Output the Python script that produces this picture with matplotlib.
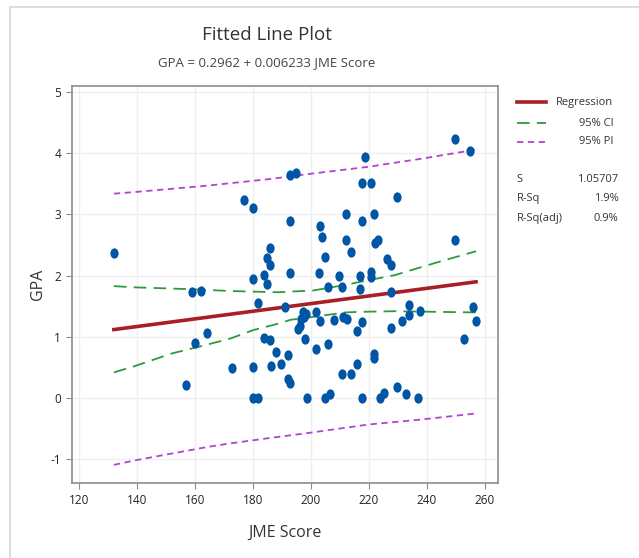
import numpy as np
import matplotlib.pyplot as plt
from matplotlib.path import Path
from matplotlib.transforms import Affine2D
from matplotlib.patches import Rectangle

plt.rcParams['font.family'] = ['Open Sans', 'DejaVu Sans']
plt.rcParams['axes.unicode_minus'] = False

# JME score vs GPA
jme = [132, 156.9, 158.8, 161.9, 159.9, 164.2, 172.6, 176.9, 180.0, 180.0,
       180.0, 180.0, 181.8, 181.8, 183.7, 183.7, 184.9, 184.9, 186.0, 186.0,
       186.0, 186.2, 187.9, 189.8, 191.0, 192.1, 192.1, 192.9, 192.7, 195.0,
       192.8, 192.8, 195.6, 196.2, 196.7, 197.4, 197.6, 198.4, 198.1, 198.8,
       201.9, 201.9, 202.8, 203.1, 203.1, 203.9, 204.8, 204.8, 205.9, 205.9,
       206.7, 207.9, 209.7, 210.9, 210.9, 211.1, 212.3, 212.0, 212.0, 213.8,
       214.0, 215.9, 215.9, 216.9, 216.9, 217.8, 217.8, 217.7, 217.7, 218.8,
       220.7, 220.9, 220.9, 221.8, 221.8, 221.8, 222.0, 223.2, 223.8, 225.1,
       226.1, 227.8, 227.8, 227.8, 229.7, 229.7, 231.6, 232.7, 233.9, 233.9,
       237.0, 237.6, 249.7, 249.7, 252.8, 254.8, 255.8, 256.9]
gpa = [2.37, 0.21, 1.73, 1.75, 0.90, 1.07, 0.50, 3.23, 3.10, 1.94,
       0.51, 0.0, 0.0, 1.56, 2.01, 0.99, 1.87, 2.29, 2.17, 2.45,
       0.95, 0.52, 0.76, 0.56, 1.49, 0.71, 0.32, 0.25, 3.65, 3.67,
       2.89, 2.05, 1.13, 1.18, 1.30, 1.40, 1.33, 1.38, 0.96, 0.0,
       1.41, 0.81, 2.05, 2.81, 1.26, 2.63, 2.31, 0.0, 1.82, 0.88,
       0.07, 1.28, 1.99, 1.81, 0.40, 1.33, 1.30, 3.01, 2.59, 2.39,
       0.40, 1.10, 0.56, 1.99, 1.78, 1.25, 0.0, 3.51, 2.90, 3.94,
       3.51, 2.06, 1.98, 3.01, 0.72, 0.66, 2.53, 2.59, 0.0, 0.08,
       2.28, 2.17, 1.73, 1.14, 3.29, 0.18, 1.26, 0.07, 1.52, 1.36,
       0.01, 1.42, 4.24, 2.58, 0.96, 4.04, 1.49, 1.26]

# fitted line end points
reg_x = [132, 257]
reg_y = [1.12, 1.90]

# confidence band
ci_x = [132, 139, 152, 158, 163, 172, 180, 189, 193, 201, 212, 217, 229, 243, 257]
ci_hi = [1.83, 1.81, 1.79, 1.78, 1.77, 1.75, 1.74, 1.73, 1.74, 1.76, 1.85, 1.90, 2.01, 2.21, 2.40]
ci_lo = [0.42, 0.52, 0.73, 0.80, 0.86, 0.97, 1.11, 1.22, 1.28, 1.33, 1.40, 1.41, 1.42, 1.41, 1.40]

# prediction band
pi_x = [132, 140, 164, 172, 186, 199, 220, 238, 257]
pi_hi = [3.34, 3.37, 3.47, 3.51, 3.58, 3.66, 3.78, 3.91, 4.06]
pi_lo = [-1.09, -1.01, -0.80, -0.74, -0.65, -0.57, -0.43, -0.35, -0.25]

stat_names = ['S', 'R-Sq', 'R-Sq(adj)']
stat_vals = ['1.05707', '1.9%', '0.9%']

fig = plt.figure(figsize=(6.39, 5.58), dpi=100)
ax = fig.add_axes([0.112, 0.134, 0.667, 0.712])

# squashed dot marker like the picture
oval = Path.unit_circle().transformed(Affine2D().scale(0.8, 1.0))

ax.grid(True, color='#efefef', lw=1)
ax.set_axisbelow(True)
ax.plot(pi_x, pi_hi, color='#b044d0', lw=1.3, ls=(0, (3.5, 2.5)))
ax.plot(pi_x, pi_lo, color='#b044d0', lw=1.3, ls=(0, (3.5, 2.5)))
ax.plot(ci_x, ci_hi, color='#2e9a3c', lw=1.3, ls=(0, (7, 4)))
ax.plot(ci_x, ci_lo, color='#2e9a3c', lw=1.3, ls=(0, (7, 4)))
ax.plot(reg_x, reg_y, color='#a81f24', lw=2.6)
ax.scatter(jme, gpa, marker=oval, s=55, color='#0055a5', zorder=3, linewidths=0)

ax.set_xlim(117.4, 264.5)
ax.set_ylim(-1.39, 5.1)
ax.set_xticks(range(120, 261, 20))
ax.set_yticks(range(-1, 6))
for s in ax.spines.values():
    s.set_color('#8c8c8c')
    s.set_linewidth(1.2)
ax.tick_params(colors='#8c8c8c', labelcolor='#222222', labelsize=8.5, length=4)
ax.set_xlabel('JME Score', fontsize=11.5, color='#333333', labelpad=13)
ax.set_ylabel('GPA', fontsize=11.5, color='#333333', labelpad=3)

fig.text(0.417, 0.937, 'Fitted Line Plot', ha='center', va='center', fontsize=13.5, color='#333333')
fig.text(0.417, 0.887, 'GPA = 0.2962 + 0.006233 JME Score', ha='center', va='center',
         fontsize=9.5, color='#444444')

# legend block on the right
rows = [(0.817, '#a81f24', '-', 2.6, 'Regression'),
        (0.779, '#2e9a3c', (0, (7, 4)), 1.3, '95% CI'),
        (0.746, '#b044d0', (0, (3.5, 2.5)), 1.3, '95% PI')]
for y, c, ls, lw, lab in rows:
    fig.add_artist(plt.Line2D([0.809, 0.855], [y, y], color=c, ls=ls, lw=lw))
    fig.text(0.960, y, lab, ha='right', va='center', fontsize=8, color='#333333')
for i, (n, v) in enumerate(zip(stat_names, stat_vals)):
    y = 0.679 - i * 0.035
    fig.text(0.809, y, n, ha='left', va='center', fontsize=8, color='#333333')
    fig.text(0.968, y, v, ha='right', va='center', fontsize=8, color='#333333')

# outer frame of the graph window
fig.add_artist(Rectangle((10 / 639, -0.05), 1.2, (558 - 6.5) / 558 + 0.05,
                         transform=fig.transFigure, fill=False, ec='#d6d6d6', lw=1.2))

fig.savefig('out.png', dpi=100)
